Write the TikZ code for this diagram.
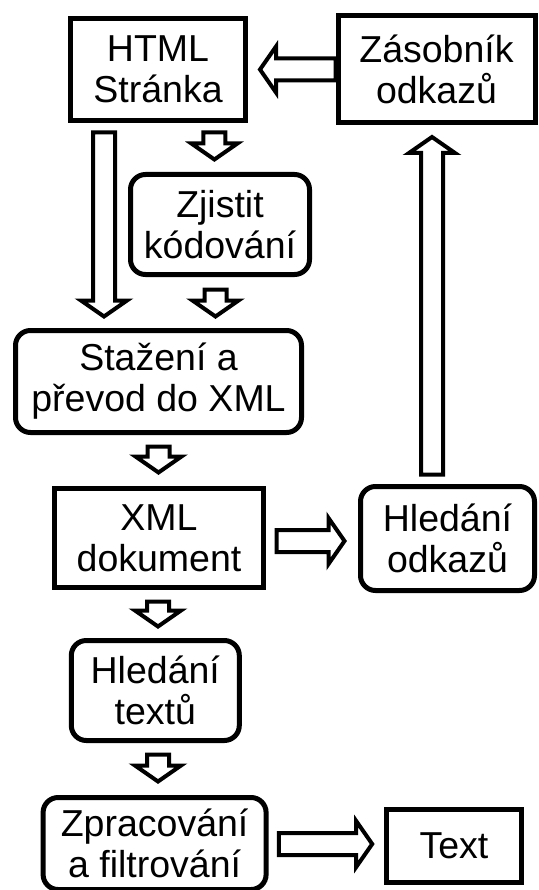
\documentclass[tikz,border=0pt]{standalone}
\usepackage{fontspec}
\setmainfont{Liberation Sans}
\usetikzlibrary{calc}
\tikzset{
  box/.style={draw=black, line width=5pt, fill=white, inner sep=0pt, align=center,
    font=\fontsize{37.5}{41}\selectfont},
  rbox/.style={box, rounded corners=15pt},
  blockarrow/.style={draw=black, fill=white, line width=4pt,
    to path={let \p1=(\tikztostart), \p2=(\tikztotarget), \p3=($(\p2)!16pt!(\p1)$) in
      ($(\p1)!11pt!90:(\p2)$) -- ($(\p3)!11pt!-90:(\p1)$) -- ($(\p3)!23pt!-90:(\p1)$)
      -- (\p2) -- ($(\p3)!23pt!90:(\p1)$) -- ($(\p3)!11pt!90:(\p1)$)
      -- ($(\p1)!11pt!-90:(\p2)$) -- cycle}}
}
\begin{document}
\begin{tikzpicture}[x=1pt, y=-1pt]
\useasboundingbox[fill=white] (0,0) rectangle (538,890);
% boxes
\node[box, minimum width=175pt, minimum height=102pt] (html) at (158,69.5) {HTML\\Stránka};
\node[box, minimum width=197pt, minimum height=107pt] (zas) at (436.5,69.5) {Zásobník\\odkazů};
\node[rbox, minimum width=179pt, minimum height=100pt] (zji) at (220,224.5) {Zjistit\\kódování};
\node[rbox, minimum width=286pt, minimum height=102pt] (staz) at (158.5,381.5) {Stažení a\\převod do XML};
\node[box, minimum width=209pt, minimum height=99pt] (xml) at (159,538) {XML\\dokument};
\node[rbox, minimum width=174pt, minimum height=104pt] (hlo) at (447.5,538.5) {Hledání\\odkazů};
\node[rbox, minimum width=168pt, minimum height=100pt] (hlt) at (155.3,690.5) {Hledání\\textů};
\node[rbox, minimum width=223pt, minimum height=92pt] (zpr) at (154.6,843.5) {Zpracování\\a filtrování};
\node[box, minimum width=135pt, minimum height=73pt] (txt) at (453.9,846) {Text};
% block arrows
\draw[blockarrow] (zas.west) to ($(html.east)+(12,0)$);
\draw[blockarrow] ($(html.south)+(56.4,9.5)$) to ($(zji.north)+(-5.6,-12.5)$);
\draw[blockarrow] ($(html.south)+(-54,9.5)$) to ($(staz.north)+(-54.5,-11.5)$);
\draw[blockarrow] ($(zji.south)+(-4.5,12.5)$) to ($(staz.north)+(57,-11.5)$);
\draw[blockarrow] ($(hlo.north)+(-15.5,-9.5)$) to ($(zas.south)+(-4.5,11.5)$);
\draw[blockarrow] ($(staz.south)+(0,11.5)$) to ($(xml.north)+(-0.5,-13.5)$);
\draw[blockarrow] ($(xml.east)+(10.5,3)$) to ($(hlo.west)+(-13.5,2.5)$);
\draw[blockarrow] ($(xml.south)+(-1,11.5)$) to ($(hlt.north)+(2.7,-11.5)$);
\draw[blockarrow] ($(hlt.south)+(2.7,11.5)$) to ($(zpr.north)+(3.4,-13.5)$);
\draw[blockarrow] ($(zpr.east)+(10.3,0.5)$) to ($(txt.west)+(-11.7,-2)$);
\end{tikzpicture}
\end{document}
